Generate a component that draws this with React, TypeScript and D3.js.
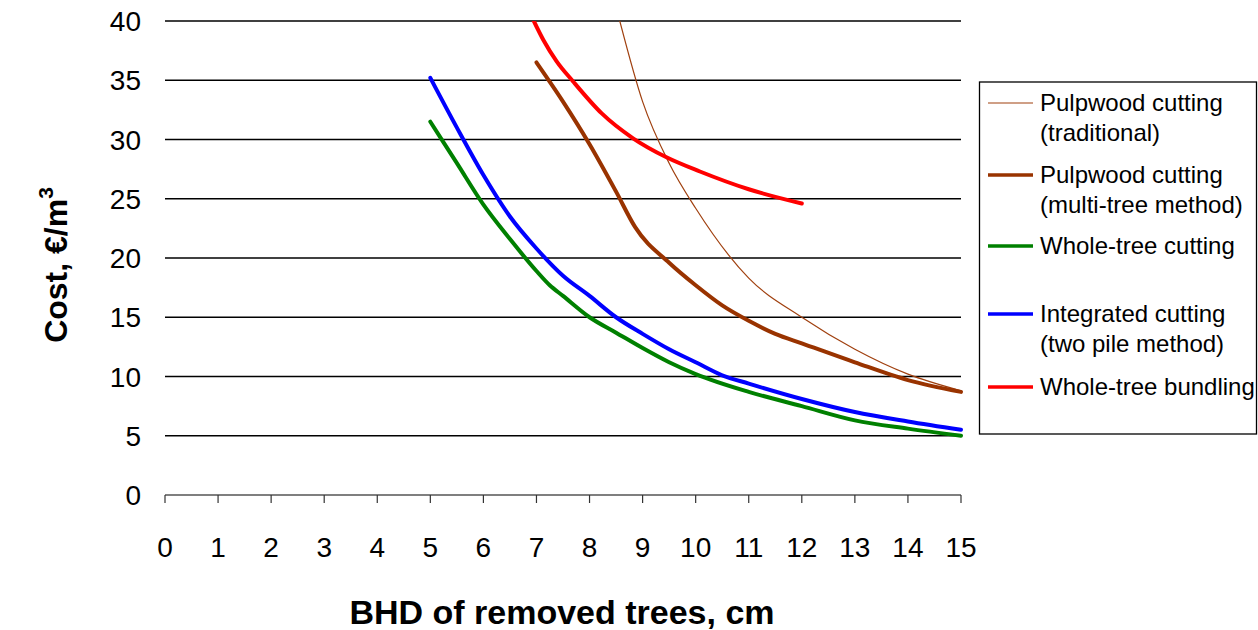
import { useEffect, useRef } from 'react';
import * as d3 from 'd3';

// x ticks / y ticks
const xTicks = [0, 1, 2, 3, 4, 5, 6, 7, 8, 9, 10, 11, 12, 13, 14, 15];
const yTicks = [0, 5, 10, 15, 20, 25, 30, 35, 40];

// series (x = BHD cm, y = cost €/m3)
const pulpTradX = [8.57, 9, 9.5, 10, 11, 12, 13, 14, 15];
const pulpTradY = [40, 33.2, 28.0, 24.2, 18.3, 15.0, 12.3, 10.2, 8.8];

const pulpMultiX = [7, 7.5, 8, 8.5, 8.86, 9.5, 10, 10.5, 11, 11.5, 12, 13, 14, 15];
const pulpMultiY = [36.5, 33.2, 29.6, 25.6, 22.6, 19.6, 17.7, 16.0, 14.7, 13.6, 12.8, 11.2, 9.7, 8.7];

const wholeCutX = [5, 5.5, 6, 6.5, 7, 7.25, 7.5, 8, 8.5, 9, 9.5, 10, 11, 12, 13, 14, 15];
const wholeCutY = [31.5, 28, 24.5, 21.6, 18.9, 17.7, 16.8, 15.0, 13.7, 12.4, 11.2, 10.2, 8.7, 7.5, 6.3, 5.6, 5.0];

const integX = [5, 5.5, 6, 6.5, 7, 7.5, 8, 8.5, 9, 9.5, 10, 10.5, 11, 12, 13, 14, 15];
const integY = [35.2, 31, 27, 23.5, 20.8, 18.5, 16.8, 15.0, 13.6, 12.3, 11.2, 10.1, 9.4, 8.1, 7.0, 6.2, 5.5];

const bundleX = [6.95, 7.13, 7.38, 7.69, 8.23, 8.82, 9.45, 10.08, 11, 12];
const bundleY = [40, 38.4, 36.6, 34.9, 32.2, 30.1, 28.5, 27.3, 25.8, 24.6];

const seriesNames = [
  ['Pulpwood cutting', '(traditional)'],
  ['Pulpwood cutting', '(multi-tree method)'],
  ['Whole-tree cutting'],
  ['Integrated cutting', '(two pile method)'],
  ['Whole-tree bundling'],
];
const seriesColors = ['#a0400f', '#993300', '#008000', '#0000ff', '#ff0000'];
const seriesWidths = [1.2, 4, 4, 4, 4];
const legendY = [103, 175, 246, 314, 387];

const App = () => {
  const ref = useRef<SVGSVGElement>(null);

  useEffect(() => {
    const svg = d3.select(ref.current);
    svg.selectAll('*').remove();

    const x = d3.scaleLinear().domain([0, 15]).range([165, 961]);
    const y = d3.scaleLinear().domain([0, 40]).range([495, 21]);
    const font = 'Arial, "Liberation Sans", sans-serif';

    // gridlines
    svg.append('g')
      .selectAll('line')
      .data(yTicks.filter(d => d > 0))
      .join('line')
      .attr('x1', x(0)).attr('x2', x(15))
      .attr('y1', d => y(d)).attr('y2', d => y(d))
      .attr('stroke', '#000').attr('stroke-width', 1.3);

    // x axis
    const xa = svg.append('g').attr('transform', `translate(0,${y(0)})`);
    xa.append('line').attr('x1', x(0)).attr('x2', x(15)).attr('stroke', '#555').attr('stroke-width', 1.5);
    xa.selectAll('line.t').data(xTicks).join('line').attr('class', 't')
      .attr('x1', d => x(d)).attr('x2', d => x(d)).attr('y1', 0).attr('y2', 8)
      .attr('stroke', '#333').attr('stroke-width', 1.2);
    xa.selectAll('text').data(xTicks).join('text')
      .attr('x', d => x(d)).attr('y', 62)
      .attr('text-anchor', 'middle')
      .attr('font-family', font).attr('font-size', 28)
      .text(d => d);

    // y labels
    svg.append('g').selectAll('text').data(yTicks).join('text')
      .attr('x', 141).attr('y', d => y(d) + 10)
      .attr('text-anchor', 'end')
      .attr('font-family', font).attr('font-size', 28)
      .text(d => d);

    // lines
    const line = d3.line<[number, number]>()
      .x(d => x(d[0])).y(d => y(d[1]))
      .curve(d3.curveMonotoneX);
    const series: [number[], number[]][] = [
      [pulpTradX, pulpTradY],
      [pulpMultiX, pulpMultiY],
      [wholeCutX, wholeCutY],
      [integX, integY],
      [bundleX, bundleY],
    ];
    svg.append('defs').append('clipPath').attr('id', 'plot')
      .append('rect').attr('x', 150).attr('y', y(40)).attr('width', 830).attr('height', y(0) - y(40) + 5);
    series.forEach(([xs, ys], i) => {
      svg.append('path')
        .attr('d', line(xs.map((v, k) => [v, ys[k]] as [number, number])))
        .attr('fill', 'none')
        .attr('stroke', seriesColors[i])
        .attr('stroke-width', seriesWidths[i])
        .attr('stroke-linecap', 'round')
        .attr('clip-path', 'url(#plot)');
    });

    // legend
    const lg = svg.append('g');
    lg.append('rect').attr('x', 979.5).attr('y', 82).attr('width', 277).attr('height', 352)
      .attr('fill', 'none').attr('stroke', '#000').attr('stroke-width', 1.3);
    seriesNames.forEach((lines, i) => {
      lg.append('line').attr('x1', 988).attr('x2', 1033)
        .attr('y1', legendY[i]).attr('y2', legendY[i])
        .attr('stroke', seriesColors[i]).attr('stroke-width', seriesWidths[i] === 4 ? 3.5 : 1.2);
      lines.forEach((t, k) => {
        lg.append('text').attr('x', 1040).attr('y', legendY[i] + 8 + k * 30)
          .attr('font-family', font).attr('font-size', 24).text(t);
      });
    });

    // titles
    svg.append('text').attr('x', 562).attr('y', 624)
      .attr('text-anchor', 'middle').attr('font-family', font)
      .attr('font-size', 34).attr('font-weight', 'bold')
      .text('BHD of removed trees, cm');

    const yt = svg.append('text')
      .attr('transform', 'translate(67,265) rotate(-90)')
      .attr('text-anchor', 'middle').attr('font-family', font)
      .attr('font-size', 32).attr('font-weight', 'bold');
    yt.append('tspan').text('Cost, €/m');
    yt.append('tspan').attr('dy', -14).attr('font-size', 21).text('3');
  }, []);

  return (
    <svg ref={ref} width={1258} height={630}
      style={{ position: 'absolute', left: 0, top: 0, background: '#fff' }} />
  );
};

export default App;
